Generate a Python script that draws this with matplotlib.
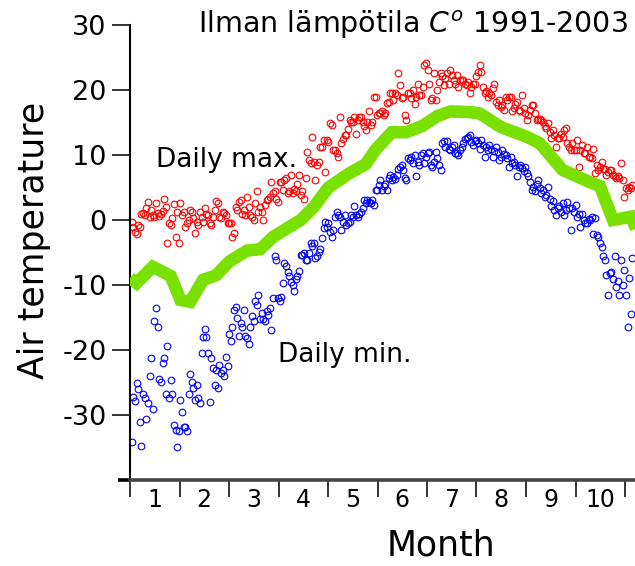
import matplotlib
matplotlib.use("Agg")
import matplotlib.pyplot as plt
import numpy as np

# ---------------- data ----------------
DAYS_PER_MONTH = 30.44

month_labels = ["1", "2", "3", "4", "5", "6", "7", "8", "9", "10"]
y_ticks = [-40, -30, -20, -10, 0, 10, 20, 30]
y_tick_labels = ["", "-30", "-20", "-10", "0", "10", "20", "30"]

# daily maximum temperatures (day 1 onwards)
red_a = [-0.3, -1.0, -1.8, -2.1, -0.8, -1.1, 1.0, 1.1, 0.8, 1.8,
         2.8, 0.5, 1.5, 0.8, 0.5, 2.6, 1.1, 0.6, 1.0, 1.4,
         3.2, 2.0, -3.5, -0.5, -0.8, 0.3, 2.5, -2.6, 1.3, -3.5,
         2.6, 0.8, 1.3, -1.1, -0.5, 0.0, 1.5, 1.3, 0.3, -2.0,
         -0.3, -0.8, 1.3, 0.5, -0.3, 1.8, 1.0, 0.8, -0.5, -0.8,
         0.5, 1.5, 2.9, 2.6, 0.5, 0.3, 1.3, 1.1, 0.8, -0.5,
         -0.5, -0.5, -2.6, -2.0, 2.0, 1.5, 2.8, 3.1, 1.0, 1.5,
         0.8, 3.6, 2.0, 0.8, 0.5, 0.0, 2.6, 4.4, 1.3, 2.0,
         1.3, 0.0, 2.3, 3.1, 3.3, 3.6, 5.9, 4.1, 4.4, 3.3,
         2.8, 5.9, 5.9, 4.6, 6.2, 6.4, 4.1, 4.4, 6.9]
red_b = [4.1, 4.8, 4.4, 5.6, 7.0, 3.8, 4.4, 3.3, 6.4, 10.5,
         9.2, 8.7, 12.7, 9.0, 6.2, 8.5, 9.0, 11.3, 11.3, 12.3,
         7.4, 12.3, 12.0, 14.9, 14.6, 10.8, 10.8, 10.3, 9.7, 15.9,
         11.8, 12.5, 13.1, 13.1, 14.0, 15.4, 15.1, 15.1, 15.9, 13.3,
         15.4, 15.9, 15.9, 15.1, 14.4, 13.8, 15.1, 16.7, 14.6, 15.1,
         19.0, 19.0, 16.2, 16.4, 16.4, 16.7, 16.2, 16.4, 18.0, 18.2,
         19.5, 19.5, 18.5, 19.5, 19.2, 22.6, 20.8, 18.7, 19.0, 16.2,
         15.4, 19.5, 19.5, 18.7, 20.0, 17.9, 19.0, 21.0, 19.2, 19.2,
         20.5, 23.9, 24.1, 23.1, 21.0, 18.5, 18.7, 22.6, 18.5, 20.0,
         21.3, 22.6, 22.1, 20.8, 21.8, 22.6, 21.0, 23.1, 22.3, 21.5]
red_c = [21.0, 22.3, 20.5, 21.5]
red_d = [21.5, 21.5, 21.0, 20.8, 21.3, 19.5, 20.5, 21.0, 21.0, 22.1,
         22.8, 23.8, 22.8, 20.5, 19.5, 19.8, 19.0, 19.5, 19.2, 20.3,
         21.0, 18.2, 17.7, 18.5, 17.4, 17.7, 16.9, 19.0, 18.5, 19.0,
         19.0, 16.7, 17.2, 17.9, 18.2, 16.9, 16.7, 19.2, 17.2, 16.4,
         15.4, 16.2, 16.9, 17.7, 17.7, 16.4, 15.4, 15.6, 15.6, 15.4,
         15.1, 14.4, 14.1, 14.9, 13.6, 12.6, 13.8, 13.1, 11.3, 12.6,
         12.6, 13.3, 12.8, 13.8, 14.1, 11.8, 11.3, 10.8, 11.8, 10.8,
         10.8, 12.3, 8.2, 10.8, 11.5, 10.3, 10.3, 11.3, 9.7, 9.7,
         9.5, 11.0, 7.2, 8.5, 7.7, 8.2, 9.0, 7.9, 7.9, 6.9,
         7.4, 7.7, 7.7, 6.9, 6.7, 6.4, 6.7, 6.4, 8.7, 6.2,
         3.6, 4.9, 4.6, 5.1, 4.9, 5.4]

# daily minimum temperatures (day 1 onwards)
blue_a = [-34.1, -27.2, -27.8, -25.1, -26.0, -31.0, -34.8, -26.8, -27.4, -30.6,
          -28.1, -24.0, -21.3, -29.1, -15.5, -13.5, -16.4, -24.4, -24.9, -22.0,
          -21.3, -26.7, -19.4, -27.4, -24.6, -26.8, -31.5, -32.3, -34.9, -32.5,
          -27.7, -29.5, -31.8, -31.8, -32.4, -26.8, -23.7, -24.9, -25.8, -27.7,
          -25.4, -27.4, -28.1, -20.5, -18.0, -16.8, -18.0, -20.5, -28.0, -21.3,
          -22.8, -25.4, -23.0, -25.9, -22.3, -23.6, -23.0, -24.0, -21.0, -22.5,
          -17.5, -18.6, -16.5, -13.8, -13.4, -15.0, -17.8, -15.8, -16.4, -13.8,
          -17.9, -18.1, -19.0, -16.5, -14.8, -15.6, -12.4, -13.0, -11.5, -15.2,
          -14.3, -15.3, -15.6, -14.0, -14.6, -13.5, -16.9, -12.0, -5.5, -6.2,
          -12.0, -12.5, -11.8, -9.7, -6.6, -7.1, -8.0, -8.6, -9.5, -10.0,
          -10.9, -9.0, -8.6, -7.8, -5.4]
blue_b = [-5.4, -5.1, -6.2, -6.2, -5.0, -3.6, -4.0, -3.6, -5.9, -5.6,
          -4.9, -4.4, -2.8, -1.3, -0.3, -1.0, -0.5, -1.8, -2.6, -1.5,
          0.5, 1.3, 0.8, 0.5, -1.5, -0.3, 0.8, -0.8, -0.5, -0.3,
          0.8, 0.5, 2.2, 0.8, 0.5, 1.0, 1.3, 1.8, 3.1, 2.6,
          3.1, 2.8, 2.6, 3.1, 2.3, 4.6, 4.6, 5.4, 6.2, 4.6,
          5.2, 5.6, 4.6, 6.4, 6.9, 6.2, 6.6, 6.3, 6.9, 7.9,
          8.2, 8.5, 7.7, 6.4, 6.2, 9.5, 9.2, 9.7, 8.7, 10.0,
          6.7, 9.0, 8.5, 10.0, 10.3, 8.7, 9.7, 10.3, 10.5, 8.5,
          8.2, 9.0, 10.5, 9.5, 8.5, 7.7, 11.8, 12.1, 11.3, 12.1,
          11.0, 10.8, 11.3, 11.5, 10.3, 10.3, 10.0, 10.8, 11.3]
blue_c = [11.8, 12.4, 12.6, 12.8, 13.1, 12.0, 11.5, 12.1, 12.3, 11.8,
          11.0, 12.3, 11.6, 9.7, 11.3, 10.8, 11.5, 10.9, 9.7, 10.6,
          11.3, 10.5, 9.2, 9.7, 10.8, 10.2, 10.0, 9.5, 8.2, 9.7,
          8.7, 9.0, 8.5, 6.7, 8.2, 8.4, 8.0, 7.5, 8.2, 7.2,
          6.7, 5.9, 4.6, 5.1, 4.4, 5.6, 6.2, 4.9, 4.1, 4.6,
          3.6, 3.9, 5.1, 3.3, 2.1, 3.0, 1.5, 0.8, 1.8, 2.2,
          1.3, 2.6, 0.8, 1.6, 2.8, 1.8, -1.5, 1.8, 1.2, 2.3,
          0.5, 0.9, -1.0, 1.0, 0.0, -0.4, -0.5, 0.2, 0.0, 0.5,
          -2.1, 0.3, -2.3, -2.6, -3.6, -4.1, -5.6, -6.2, -8.5, -11.5,
          -8.2, -8.0, -9.0, -5.6, -10.3, -9.4, -11.5, -6.2, -10.0, -7.7,
          -11.5, -16.4, -8.9, -14.4, -5.9]

# smoothed mean temperature (green band)
green_day = [0, 4, 14, 25, 31, 37, 45, 53, 61, 72, 80, 88, 105, 113, 122, 135,
             145, 151, 161, 170, 180, 189, 197, 209, 215, 228, 244, 252, 266,
             283, 289, 297, 308, 312]
green_temp = [-8.9, -9.7, -7.2, -8.6, -12.3, -12.6, -9.2, -8.5, -6.4, -4.7, -4.5,
              -2.6, 0.0, 2.0, 5.0, 7.2, 8.6, 10.8, 13.5, 13.5, 14.5, 16.0, 16.7,
              16.6, 16.4, 14.3, 12.8, 11.8, 7.7, 5.8, 5.2, 0.0, 0.5, -1.8]

# ---------------- figure ----------------
red = np.array(red_a + red_b + red_c + red_d)
blue = np.array(blue_a + blue_b + blue_c)
red_days = np.arange(1, len(red) + 1)
blue_days = np.arange(1, len(blue) + 1)

fig = plt.figure(figsize=(6.35, 5.66), dpi=100)
ax = fig.add_axes([130 / 635, 86 / 566, 505 / 635, 455 / 566])

ax.plot(red_days / DAYS_PER_MONTH, red, linestyle="none", marker="o",
        mfc="none", mec="#ff0000", ms=4.8, mew=0.8, zorder=2)
ax.plot(blue_days / DAYS_PER_MONTH, blue, linestyle="none", marker="o",
        mfc="none", mec="#0000ff", ms=4.8, mew=0.8, zorder=2)
ax.plot(np.array(green_day) / DAYS_PER_MONTH, green_temp, color="#7ae000",
        lw=9, solid_joinstyle="miter", solid_capstyle="butt", zorder=3)

ax.set_xlim(0, 505 / 49.5)
ax.set_ylim(-40, 30)

for s in ("top", "right"):
    ax.spines[s].set_visible(False)
ax.spines["left"].set_linewidth(1.5)
ax.spines["bottom"].set_linewidth(2.6)
ax.spines["bottom"].set_color("#444444")

ax.set_yticks(y_ticks)
ax.set_yticklabels(y_tick_labels)
ax.tick_params(axis="y", direction="out", length=13, width=1.1,
               labelsize=19.5, pad=4, colors="black")
t0 = ax.yaxis.get_major_ticks()[0].tick1line
t0.set_markeredgewidth(2.6)
t0.set_color("#444444")
t0.set_markersize(9)

ax.set_xticks(np.arange(0, 11))
ax.set_xticklabels([""] * 11)
ax.set_xticks(np.arange(len(month_labels)) + 0.5, minor=True)
ax.set_xticklabels(month_labels, minor=True)
ax.tick_params(axis="x", which="major", direction="out", length=12, width=1.1)
ax.tick_params(axis="x", which="minor", length=0, labelsize=17, pad=6)

ax.text(1.96, 9.2, "Daily max.", fontsize=19, ha="center", va="center", zorder=4)
ax.text(4.34, -20.8, "Daily min.", fontsize=19, ha="center", va="center", zorder=4)

fig.text(34 / 635, 1 - 240 / 566, "Air temperature", rotation=90,
         fontsize=25, ha="center", va="center")
fig.text(441 / 635, 1 - 545 / 566, "Month", fontsize=25, ha="center", va="center")
fig.text(413 / 635, 1 - 25 / 566, r"Ilman lämpötila $C^{o}$ 1991-2003",
         fontsize=20.5, ha="center", va="center")

fig.savefig("out.png", dpi=100)
